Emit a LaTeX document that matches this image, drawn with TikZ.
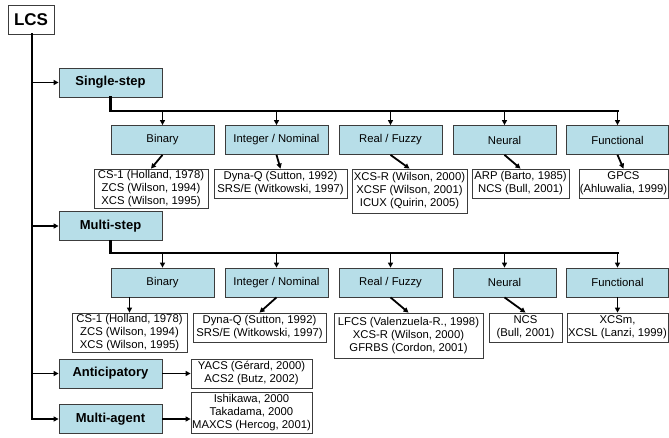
\documentclass[tikz,border=0pt]{standalone}
\usepackage{fontspec}
\setmainfont{Liberation Sans}
\usetikzlibrary{arrows.meta,calc}
\definecolor{boxblue}{RGB}{183,222,232}
\definecolor{edgegray}{RGB}{60,60,60}
\begin{document}
\begin{tikzpicture}[x=1pt,y=-1pt,
  base/.style={draw=edgegray,line width=0.8pt,inner sep=0pt,align=center},
  rootbox/.style={base,fill=white,minimum width=46pt,minimum height=29pt,font=\fontsize{17}{19}\selectfont\bfseries},
  mainbox/.style={base,fill=boxblue,minimum width=103pt,minimum height=29pt,font=\fontsize{13}{15}\selectfont\bfseries},
  catbox/.style={base,fill=boxblue,minimum width=103pt,minimum height=29pt,font=\fontsize{11.3}{13}\selectfont},
  leafbox/.style={base,fill=white,font=\fontsize{11.3}{13}\selectfont},
  trunk/.style={line width=2.6pt,line cap=rect},
  arr/.style={line width=1.8pt,-{Triangle[length=5pt,width=5pt]}},
]
\useasboundingbox (0,0) rectangle (669,437);

% root
\node[rootbox] (lcs) at (31,19.5) {LCS};

% main categories
\node[mainbox] (ss) at (110.5,82.5) {Single-step};
\node[mainbox] (ms) at (110.5,226) {Multi-step};
\node[mainbox] (ant) at (110.5,373.5) {Anticipatory};
\node[mainbox] (ma) at (110.5,419) {Multi-agent};

% single-step categories
\node[catbox] (bin1) at (162.5,140) {Binary};
\node[catbox] (int1) at (276.5,140) {Integer / Nominal};
\node[catbox] (real1) at (390.5,140) {Real / Fuzzy};
\node[catbox] (neu1) at (504.5,140) {Neural};
\node[catbox,minimum width=102pt] (fun1) at (617.5,140) {Functional};

% multi-step categories
\node[catbox] (bin2) at (162.5,282.5) {Binary};
\node[catbox] (int2) at (276.5,282.5) {Integer / Nominal};
\node[catbox] (real2) at (390.5,282.5) {Real / Fuzzy};
\node[catbox] (neu2) at (504.5,282.5) {Neural};
\node[catbox,minimum width=102pt] (fun2) at (617.5,282.5) {Functional};

% single-step leaves
\node[leafbox,minimum width=114pt,minimum height=39pt] (b1) at (151,188.5) {CS-1 (Holland, 1978)\\ZCS (Wilson, 1994)\\XCS (Wilson, 1995)};
\node[leafbox,minimum width=133pt,minimum height=29pt] (i1) at (280.5,183.5) {Dyna-Q (Sutton, 1992)\\SRS/E (Witkowski, 1997)};
\node[leafbox,minimum width=115pt,minimum height=44pt] (r1) at (409.5,191) {XCS-R (Wilson, 2000)\\XCSF (Wilson, 2001)\\ICUX (Quirin, 2005)};
\node[leafbox,minimum width=97pt,minimum height=29pt] (n1) at (520.5,183.5) {ARP (Barto, 1985)\\NCS (Bull, 2001)};
\node[leafbox,minimum width=89pt,minimum height=29pt] (f1) at (623.5,183.5) {GPCS\\(Ahluwalia, 1999)};

% multi-step leaves
\node[leafbox,minimum width=115pt,minimum height=39pt] (b2) at (129.5,332.5) {CS-1 (Holland, 1978)\\ZCS (Wilson, 1994)\\XCS (Wilson, 1995)};
\node[leafbox,minimum width=133pt,minimum height=29pt] (i2) at (259.5,327.5) {Dyna-Q (Sutton, 1992)\\SRS/E (Witkowski, 1997)};
\node[leafbox,minimum width=149pt,minimum height=45pt] (r2) at (408.5,335.5) {LFCS (Valenzuela-R., 1998)\\XCS-R (Wilson, 2000)\\GFRBS (Cordon, 2001)};
\node[leafbox,minimum width=73pt,minimum height=29pt] (n2) at (525.5,327.5) {NCS\\(Bull, 2001)};
\node[leafbox,minimum width=101pt,minimum height=29pt] (f2) at (617.5,327.5) {XCSm,\\XCSL (Lanzi, 1999)};

% anticipatory / multi-agent leaves
\node[leafbox,minimum width=121pt,minimum height=29pt] (al) at (251.5,373.5) {YACS (Gérard, 2000)\\ACS2 (Butz, 2002)};
\node[leafbox,minimum width=121pt,minimum height=41pt] (ml) at (251.5,412.5) {Ishikawa, 2000\\Takadama, 2000\\MAXCS (Hercog, 2001)};

% trunk
\coordinate (tk) at (32,0);
\draw[trunk] (lcs.south -| tk) -- (tk |- ma.west);
\draw[arr] (tk |- ss.west) -- (ss.west);
\draw[arr] (tk |- ms.west) -- (ms.west);
\draw[arr] (tk |- ant.west) -- (ant.west);
\draw[arr] (tk |- ma.west) -- (ma.west);

% buses
\coordinate (bus1) at (110.5,111);
\coordinate (bus2) at (110.5,253);
\draw[trunk] (ss.south) -- (bus1) -- (bus1 -| fun1.north);
\draw[trunk] (ms.south) -- (bus2) -- (bus2 -| fun2.north);
\foreach \n in {bin1,int1,real1,neu1,fun1}{
  \draw[arr] (bus1 -| \n.north) -- (\n.north);
}
\foreach \n in {bin2,int2,real2,neu2,fun2}{
  \draw[arr] (bus2 -| \n.north) -- (\n.north);
}

% leaf connectors
\draw[arr] (bin1.south) -- (b1.north);
\draw[arr] (int1.south) -- (i1.north);
\draw[arr] (real1.south) -- (r1.north);
\draw[arr] (neu1.south) -- (n1.north);
\draw[arr] (fun1.south) -- (f1.north);
\draw[arr] (bin2.south -| b2.north) -- (b2.north);
\draw[arr] (int2.south) -- (i2.north);
\draw[arr] (real2.south) -- (r2.north);
\draw[arr] (neu2.south) -- (n2.north);
\draw[arr] (fun2.south) -- (f2.north);
\draw[arr] (ant.east) -- (al.west);
\draw[arr] (ma.east) -- (ma.east -| ml.west);
\end{tikzpicture}
\end{document}
